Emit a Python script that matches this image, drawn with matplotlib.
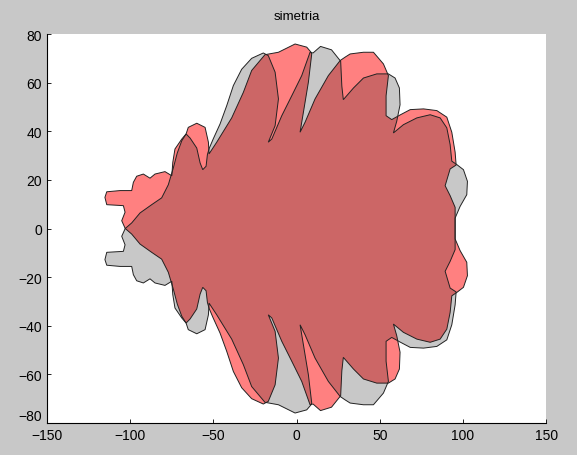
import matplotlib.pyplot as plt

# contorno de la figura original (roja), recorrido en sentido horario desde la punta izquierda
forma_x = [-103, -105.1, -103.1, -104.1, -114.1, -115.2, -114.1, -106.1, -99.1, -98.1,
           -96.1, -92.1, -88.1, -85.1, -79.1, -75.0, -74.4, -73.1, -69.0, -66.4,
           -65.1, -60.0, -55.0, -53.0, -52.6, -48.0, -39.0, -32.0, -27.0, -19.0,
           -10.9, -0.9, 6.1, 8.7, 9.1, 7.1, 4.1, 2.1, 5.1, 11.1,
           19.1, 26.2, 29.2, 32.2, 40.2, 46.2, 52.2, 55.2, 53.8, 53.8,
           57.2, 62.2, 68.3, 76.3, 84.3, 90.3, 93.3, 95.3, 95.9, 92.3,
           89.3, 92.3, 95.3, 95.3,
           95.3, 98.3, 102.3, 102.7, 100.3, 96.3, 93.3, 92.3, 90.3, 86.3,
           80.3, 72.3, 64.2, 58.2, 60.2, 62.2, 61.8, 59.2, 55.2, 48.2,
           40.2, 34.2, 28.1, 27.2, 26.5, 21.0, 14.4, 9.9, 8.1, 3.1,
           -2.9, -8.9, -14.9, -17.0, -12.9, -10.9, -12.9, -17.0, -20.0, -27.0,
           -33.0, -38.0, -42.0, -46.0, -50.0, -52.5, -53.6, -54.4, -56.4, -58.0,
           -60.0, -64.0, -66.4, -69.0, -71.7, -74.1, -77.1, -81.1, -87.1, -94.1,
           -99.1]
forma_y = [0, 3.2, 6.7, 9.4, 9.8, 12.8, 15.1, 15.6, 15.6, 19.0,
           21.5, 22.4, 20.7, 22.4, 23.4, 21.7, 27.2, 32.7, 36.8, 38.9,
           41.6, 43.3, 41.6, 35.5, 30.7, 35.5, 45.5, 56.0, 65.0, 71.5,
           72.5, 75.9, 74.6, 72.5, 71.8, 60.2, 47.8, 39.6, 43.7, 53.3,
           62.9, 69.1, 70.5, 71.8, 72.5, 72.5, 67.7, 62.9, 54.6, 46.4,
           44.8, 46.7, 48.9, 49.2, 48.5, 45.8, 39.6, 31.4, 26.1, 24.5,
           17.6, 13.5, 8.7, 0,
           -4.3, -9.1, -13.9, -19.4, -24.2, -26.3, -27.7, -34.5, -41.4, -45.5,
           -46.8, -45.5, -42.7, -39.3, -44.1, -50.9, -57.8, -61.9, -63.6, -63.6,
           -61.9, -57.8, -53.0, -58.6, -68.8, -73.5, -74.9, -72.2, -72.5, -62.9,
           -54.6, -46.4, -36.8, -35.5, -42.3, -53.3, -64.3, -71.1, -72.2, -70.0,
           -65.5, -58.8, -50.5, -43.0, -37.0, -33.0, -30.4, -25.6, -24.2, -27.0,
           -33.1, -37.2, -38.9, -36.1, -31.1, -24.9, -18.0, -12.6, -9.8, -6.4,
           -2.3]

# la gris es la misma figura reflejada respecto al eje x
refl_x = forma_x
refl_y = [-v for v in forma_y]

gris = '#c8c8c8'
rosa = '#ff8080'
oscuro = '#cc6666'

plt.rcParams['font.family'] = ['Liberation Sans', 'DejaVu Sans']
fig = plt.figure(figsize=(5.77, 4.56), dpi=100, facecolor=gris)
ax = fig.add_axes([0.0815, 0.0702, 0.865, 0.853])

ax.fill(refl_x, refl_y, color=gris, lw=0)
roja = ax.fill(forma_x, forma_y, color=rosa, lw=0)[0]
# zona comun: gris dentro de la roja
comun = ax.fill(refl_x, refl_y, color=oscuro, lw=0)[0]
comun.set_clip_path(roja)

ax.fill(refl_x, refl_y, fill=False, ec='#222222', lw=0.7)
ax.fill(forma_x, forma_y, fill=False, ec='#222222', lw=0.7)

ax.set_xlim(-150, 150)
ax.set_ylim(-80, 80)
ax.set_xticks(range(-150, 151, 50))
ax.set_yticks(range(-80, 81, 20))
ax.spines['top'].set_visible(False)
ax.spines['right'].set_visible(False)
ax.tick_params(direction='in', length=3, labelsize=10, width=0.6)
# como en matlab, el -80 queda algo por encima del eje
ax.yaxis.get_major_ticks()[0].label1.set_va('bottom')
ax.set_title('simetria', fontsize=9.5, pad=11)

fig.savefig('out.png', dpi=100, facecolor=gris)
